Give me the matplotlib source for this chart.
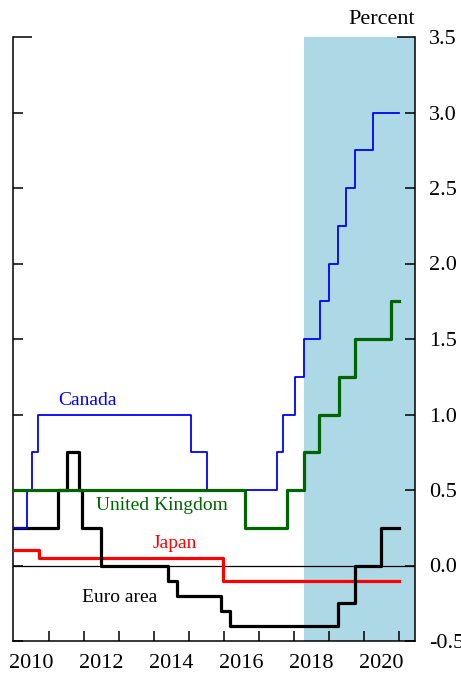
import numpy as np
import matplotlib
matplotlib.use('Agg')
import matplotlib.pyplot as plt

plt.rcParams['font.family'] = ['Liberation Serif', 'DejaVu Serif']
plt.rcParams['axes.unicode_minus'] = False

# step change dates (decimal years) and rate levels, last point = end of path
canada_dates = [2010.0, 2010.38, 2010.53, 2010.68, 2015.05, 2015.52, 2017.5, 2017.68,
                2018.04, 2018.29, 2018.74, 2019.0, 2019.26, 2019.49, 2019.74, 2020.25, 2021.0]
canada_rates = [0.25, 0.5, 0.75, 1.0, 0.75, 0.5, 0.75, 1.0,
                1.25, 1.5, 1.75, 2.0, 2.25, 2.5, 2.75, 3.0, 3.0]

uk_dates = [2010.0, 2016.6, 2017.81, 2018.29, 2018.72, 2019.27, 2019.74, 2020.77, 2021.0]
uk_rates = [0.5, 0.25, 0.5, 0.75, 1.0, 1.25, 1.5, 1.75, 1.75]

euro_dates = [2010.0, 2011.25, 2011.53, 2011.85, 2011.94, 2012.5, 2014.41, 2014.65,
              2015.91, 2016.17, 2019.24, 2019.74, 2020.49, 2021.0]
euro_rates = [0.25, 0.5, 0.75, 0.5, 0.25, 0.0, -0.1, -0.2,
              -0.3, -0.4, -0.25, 0.0, 0.25, 0.25]

japan_dates = [2010.0, 2010.72, 2015.98, 2021.0]
japan_rates = [0.1, 0.05, -0.1, -0.1]

forecast_start = 2018.29
year_ticks = list(range(2011, 2022))
year_labels = ['2010', '2012', '2014', '2016', '2018', '2020']
y_ticks = [-0.5, 0.0, 0.5, 1.0, 1.5, 2.0, 2.5, 3.0, 3.5]

x_lo, x_hi = 2009.98, 2021.45

fig = plt.figure(figsize=(4.61, 6.75), dpi=100)
ax = fig.add_axes([13 / 461, 34 / 675, 402 / 461, 604 / 675])

ax.axvspan(forecast_start, x_hi, color='#add8e6', lw=0, zorder=0)
ax.axhline(0, color='black', lw=0.9, zorder=1)

# drawing order follows the reference: red under black, blue over black, green on top
ax.step(japan_dates, japan_rates, where='post', color='#ff0000', lw=2.3, zorder=3)
ax.step(euro_dates, euro_rates, where='post', color='black', lw=2.3, zorder=4)
ax.step(canada_dates, canada_rates, where='post', color='#0000ff', lw=1.3, zorder=5)
ax.step(uk_dates, uk_rates, where='post', color='#006400', lw=2.3, zorder=6)

lab_kw = dict(fontsize=14, ha='center', va='center')
ax.text(2012.11, 1.09, 'Canada', color='#0000ff', **lab_kw)
ax.text(2014.24, 0.40, 'United Kingdom', color='#006400', **lab_kw)
ax.text(2014.6, 0.146, 'Japan', color='#ff0000', **lab_kw)
ax.text(2013.03, -0.21, 'Euro area', color='black', **lab_kw)

ax.set_xlim(x_lo, x_hi)
ax.set_ylim(-0.5, 3.5)

ax.spines['top'].set_visible(False)
for s in ('left', 'right', 'bottom'):
    ax.spines[s].set_linewidth(1.1)

ax.set_xticks(year_ticks)
ax.set_xticklabels([])
ax.set_xticks([int(y) + 0.5 for y in year_labels], minor=True)
ax.set_xticklabels(year_labels, minor=True)
ax.tick_params(axis='x', which='major', direction='in', length=7, width=1.1)
ax.tick_params(axis='x', which='minor', length=0, pad=9, labelsize=16)

ax.set_yticks(y_ticks)
ax.set_yticklabels([f'{v:.1f}' for v in y_ticks])
ax.tick_params(axis='y', direction='in', length=7, width=1.1, left=True, right=True,
               labelleft=False, labelright=True, pad=10, labelsize=16)
top_tick = ax.yaxis.get_major_ticks()[-1]
top_tick.tick1line.set_markersize(14)
top_tick.tick2line.set_markersize(13)

fig.text(415 / 461, 1 - 20 / 675, 'Percent', ha='right', va='center', fontsize=16)

fig.savefig('out.png', dpi=100)
